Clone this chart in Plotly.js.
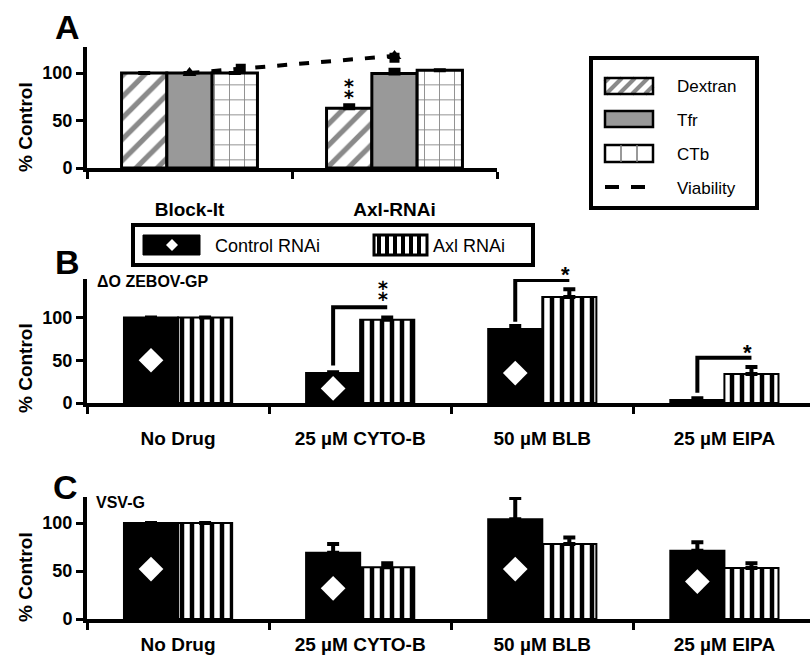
<!DOCTYPE html>
<html><head><meta charset="utf-8">
<script src="https://cdn.plot.ly/plotly-3.0.1.min.js"></script>
<style>body{margin:0;background:#fff}#chart{width:810px;height:665px}</style>
</head><body><div id="chart"></div>
<script>
// ---------------- data ----------------
const catsA = ['Block-It', 'Axl-RNAi'];
const dextran = [100, 63];
const dextranErr = [null, 3];
const tfr = [100, 99.5];
const tfrErr = [null, 4];
const ctb = [100, 103];
const ctbErr = [null, null];
const viabilityTri = [100, 118];
const viabilitySq = [104.5, 116];
const dextranSigLabel = ['', '⁑'];

const catsBC = ['No Drug', '25 µM CYTO-B', '50 µM BLB', '25 µM EIPA'];
const zebovCtrl = [100, 35, 86.5, 3.5];
const zebovCtrlErr = [null, 1, 3.5, 2];
const zebovAxl = [100, 97.5, 124, 34];
const zebovAxlErr = [null, 2.5, 9, 8];
const zebovDiamond = [50, 17, 35, null];
const zebovSigCats = [1, 2, 3];
const zebovSigLow = [44, 95, 12];
const zebovSigHigh = [112, 144, 53];
const zebovSigLabel = ['⁑', '*', '*'];

const vsvCtrl = [100, 69, 104, 71];
const vsvCtrlErr = [null, 9, 22, 9];
const vsvAxl = [100, 54, 78, 53];
const vsvAxlErr = [null, 4, 7, 5];
const vsvDiamond = [52, 32, 52, 39];

// ---------------- helpers ----------------
const W = 810, H = 665;
const px = x => x / W, py = y => 1 - y / H;
const FONT = 'Liberation Sans, Arial, Helvetica, sans-serif';
const STARFAMILY = 'DejaVu Sans, Liberation Sans, sans-serif';
const idxA = catsA.map((_, i) => i);
const idxBC = catsBC.map((_, i) => i);
const BW_A = 0.221, BW_BC = 0.297;
const sqShift = [0.25, 0];
const zeros = n => new Array(n).fill(0);

function errUp(arr) {
  return {type: 'data', symmetric: false, array: arr, arrayminus: zeros(arr.length),
          color: 'black', thickness: 4, width: 6};
}

const traces = [];
// Panel A
traces.push({type: 'bar', name: 'Dextran', x: idxA, y: dextran, width: BW_A, offset: -1.5 * BW_A,
  marker: {color: 'white', pattern: {shape: '/', fgcolor: '#8a8a8a', bgcolor: 'white', size: 15, solidity: 0.35},
           line: {color: 'black', width: 3}}, error_y: errUp(dextranErr), xaxis: 'x', yaxis: 'y'});
traces.push({type: 'bar', name: 'Tfr', x: idxA, y: tfr, width: BW_A, offset: -0.5 * BW_A,
  marker: {color: '#999999', line: {color: 'black', width: 3}}, error_y: errUp(tfrErr), xaxis: 'x', yaxis: 'y'});
traces.push({type: 'bar', name: 'CTb', x: idxA, y: ctb, width: BW_A, offset: 0.5 * BW_A,
  marker: {color: 'white', pattern: {shape: '+', fgcolor: '#8a8a8a', bgcolor: 'white', size: 15, solidity: 0.12},
           line: {color: 'black', width: 3}}, error_y: errUp(ctbErr), xaxis: 'x', yaxis: 'y'});
traces.push({type: 'scatter', mode: 'lines+markers', name: 'Viability', x: idxA, y: viabilityTri,
  line: {color: 'black', width: 4, dash: '10px,12px'}, marker: {symbol: 'triangle-up', size: 12, color: 'black'},
  xaxis: 'x', yaxis: 'y'});
traces.push({type: 'scatter', mode: 'markers', name: 'Viability (2)', x: idxA.map((v, i) => v + sqShift[i]), y: viabilitySq,
  marker: {symbol: 'square', size: 10, color: 'black'}, xaxis: 'x', yaxis: 'y'});

// Panel B & C
function panel(ctrl, ctrlErr, axl, axlErr, diam, xa, ya) {
  traces.push({type: 'bar', name: 'Control RNAi', x: idxBC, y: ctrl, width: BW_BC, offset: -BW_BC,
    marker: {color: 'black', line: {color: 'black', width: 2}}, error_y: errUp(ctrlErr), xaxis: xa, yaxis: ya});
  traces.push({type: 'bar', name: 'Axl RNAi', x: idxBC, y: axl, width: BW_BC, offset: 0,
    marker: {color: 'white', pattern: {shape: '|', fgcolor: 'black', bgcolor: 'white', size: 10, solidity: 0.45},
             line: {color: 'black', width: 2}}, error_y: errUp(axlErr), xaxis: xa, yaxis: ya});
  traces.push({type: 'scatter', mode: 'markers', name: 'Control RNAi marker', x: idxBC.map(i => i - BW_BC / 2), y: diam,
    marker: {symbol: 'diamond', size: 19, color: 'white'}, xaxis: xa, yaxis: ya});
}
panel(zebovCtrl, zebovCtrlErr, zebovAxl, zebovAxlErr, zebovDiamond, 'x2', 'y2');
panel(vsvCtrl, vsvCtrlErr, vsvAxl, vsvAxlErr, vsvDiamond, 'x3', 'y3');

// ---------------- axes ----------------
function xAxis(domain, range, idx, cats, anchor, standoff) {
  return {domain: domain, range: range, anchor: anchor, showline: true, linewidth: 4, linecolor: 'black',
    tickmode: 'array', tickvals: idx, ticktext: cats, ticks: '', showgrid: false, zeroline: false,
    tickfont: {family: FONT, size: 19, weight: 'bold', color: 'black'}, ticklabelstandoff: standoff,
    minor: {tickmode: 'array', tickvals: idx.concat([idx.length]).map(v => v - 0.5), ticks: 'outside',
            ticklen: 7, tickwidth: 3, tickcolor: 'black', showgrid: false},
    fixedrange: true};
}
function yAxis(domain, range, anchor) {
  return {domain: domain, range: range, anchor: anchor, showline: true, linewidth: 4, linecolor: 'black',
    tickmode: 'array', tickvals: [0, 50, 100], ticks: 'outside', ticklen: 7, tickwidth: 3, tickcolor: 'black',
    showgrid: false, zeroline: false, tickfont: {family: FONT, size: 18, weight: 'bold', color: 'black'},
    fixedrange: true};
}

const shapes = [], annotations = [];
function stars(xref, yref, x, y, label) {
  const dbl = label === '⁑';
  annotations.push({xref: xref, yref: yref, x: x, y: y, text: label, showarrow: false,
    yanchor: 'bottom', yshift: dbl ? -2 : -9,
    font: {family: dbl ? STARFAMILY : FONT, size: dbl ? 24 : 22, weight: 'bold', color: 'black'}});
}
// significance brackets panel B
zebovSigCats.forEach((c, i) => {
  const xc = c - BW_BC / 2, xa = c + BW_BC / 2;
  shapes.push({type: 'path', xref: 'x2', yref: 'y2',
    path: `M${xc},${zebovSigLow[i]} L${xc},${zebovSigHigh[i]} L${xa},${zebovSigHigh[i]}`,
    line: {color: 'black', width: 4}});
  stars('x2', 'y2', xa - 0.02, zebovSigHigh[i], zebovSigLabel[i]);
});
// significance panel A
idxA.forEach(i => {
  if (!dextranSigLabel[i]) return;
  stars('x', 'y', i - BW_A, dextran[i] + (dextranErr[i] || 0), dextranSigLabel[i]);
});

// panel letters, subtitles, y titles
const txt = (x, y, text, size, bold, xanchor, extra) => Object.assign({xref: 'paper', yref: 'paper',
  x: px(x), y: py(y), text: text, showarrow: false, xanchor: xanchor || 'center', yanchor: 'middle',
  font: {family: FONT, size: size, weight: bold ? 'bold' : 'normal', color: 'black'}}, extra || {});
annotations.push(txt(67, 27, 'A', 34, true));
annotations.push(txt(67, 262, 'B', 34, true));
annotations.push(txt(65, 487, 'C', 34, true));
annotations.push(txt(95, 282, 'ΔO ZEBOV-GP', 16, true, 'left'));
annotations.push(txt(94, 502, 'VSV-G', 16, true, 'left'));
annotations.push(txt(25, 127, '% Control', 19, true, 'center', {textangle: -90}));
annotations.push(txt(25, 368, '% Control', 19, true, 'center', {textangle: -90}));
annotations.push(txt(25, 577, '% Control', 19, true, 'center', {textangle: -90}));

// ---- custom legend A ----
const rectPx = (x0, y0, x1, y1, fill, lw, lc) => ({type: 'rect', xref: 'paper', yref: 'paper',
  x0: px(x0), x1: px(x1), y0: py(y1), y1: py(y0), fillcolor: fill, line: {color: lc || 'black', width: lw}});
const linePx = (x0, y0, x1, y1, lw, color, dash) => ({type: 'line', xref: 'paper', yref: 'paper',
  x0: px(x0), x1: px(x1), y0: py(y0), y1: py(y1), line: {color: color, width: lw, dash: dash || 'solid'}});
shapes.push(rectPx(591, 58, 757, 208, 'white', 4));
// Dextran swatch
shapes.push(rectPx(605, 78, 653, 94, 'white', 0));
(function hatch(x0, y0, x1, y1, step) {
  const h = y1 - y0;
  for (let a = x0 - h + 4; a < x1; a += step) {
    const t0 = Math.max(0, (x0 - a) / h), t1 = Math.min(1, (x1 - a) / h);
    if (t1 <= t0) continue;
    shapes.push(linePx(a + t0 * h, y1 - t0 * h, a + t1 * h, y1 - t1 * h, 4, '#8a8a8a'));
  }
})(605, 78, 653, 94, 13);
shapes.push(rectPx(605, 78, 653, 94, 'rgba(0,0,0,0)', 2.5));
// Tfr swatch
shapes.push(rectPx(605, 111, 653, 127, '#999999', 2.5));
// CTb swatch
shapes.push(rectPx(605, 145, 653, 162, 'white', 2.5));
shapes.push(linePx(621, 145, 621, 162, 1.5, '#777'));
shapes.push(linePx(637, 145, 637, 162, 1.5, '#777'));
// Viability swatch
shapes.push(linePx(605, 187, 648, 187, 4, 'black', '14px,12px'));
annotations.push(txt(675, 86, 'Dextran', 17, false, 'left'));
annotations.push(txt(675, 120, 'Tfr', 17, false, 'left'));
annotations.push(txt(675, 154, 'CTb', 17, false, 'left'));
annotations.push(txt(675, 188, 'Viability', 17, false, 'left'));

// ---- custom legend B ----
shapes.push(rectPx(133, 225, 533, 265, 'white', 4));
shapes.push(rectPx(143, 235, 200, 255, 'black', 1));
shapes.push({type: 'path', xref: 'paper', yref: 'paper', fillcolor: 'white', line: {width: 0},
  path: `M${px(172)},${py(239)} L${px(178)},${py(245)} L${px(172)},${py(251)} L${px(166)},${py(245)} Z`});
shapes.push(rectPx(374, 235, 427, 255, 'white', 3));
for (let x = 379; x < 425; x += 8) shapes.push(linePx(x, 235, x, 255, 4, 'black'));
annotations.push(txt(213, 246, 'Control RNAi', 18, false, 'left'));
annotations.push(txt(431, 246, 'Axl RNAi', 18, false, 'left'));

const layout = {
  width: W, height: H, margin: {l: 0, r: 0, t: 0, b: 0}, showlegend: false,
  paper_bgcolor: 'white', plot_bgcolor: 'rgba(0,0,0,0)',
  font: {family: FONT, color: 'black'},
  xaxis: xAxis([px(87), px(497)], [-0.5, 1.5], idxA, catsA, 'y', 21),
  yaxis: yAxis([py(168), py(168 - 127 * 0.95)], [0, 127], 'x'),
  xaxis2: xAxis([px(87), 1], [-0.5, 3.47], idxBC, catsBC, 'y2', 15),
  yaxis2: yAxis([py(403), py(403 - 145 * 0.855)], [0, 145], 'x2'),
  xaxis3: xAxis([px(87), 1], [-0.5, 3.47], idxBC, catsBC, 'y3', 5),
  yaxis3: yAxis([py(619), py(619 - 127 * 0.96)], [0, 127], 'x3'),
  shapes: shapes, annotations: annotations
};
Plotly.newPlot('chart', traces, layout, {displayModeBar: false, staticPlot: true});
</script></body></html>
